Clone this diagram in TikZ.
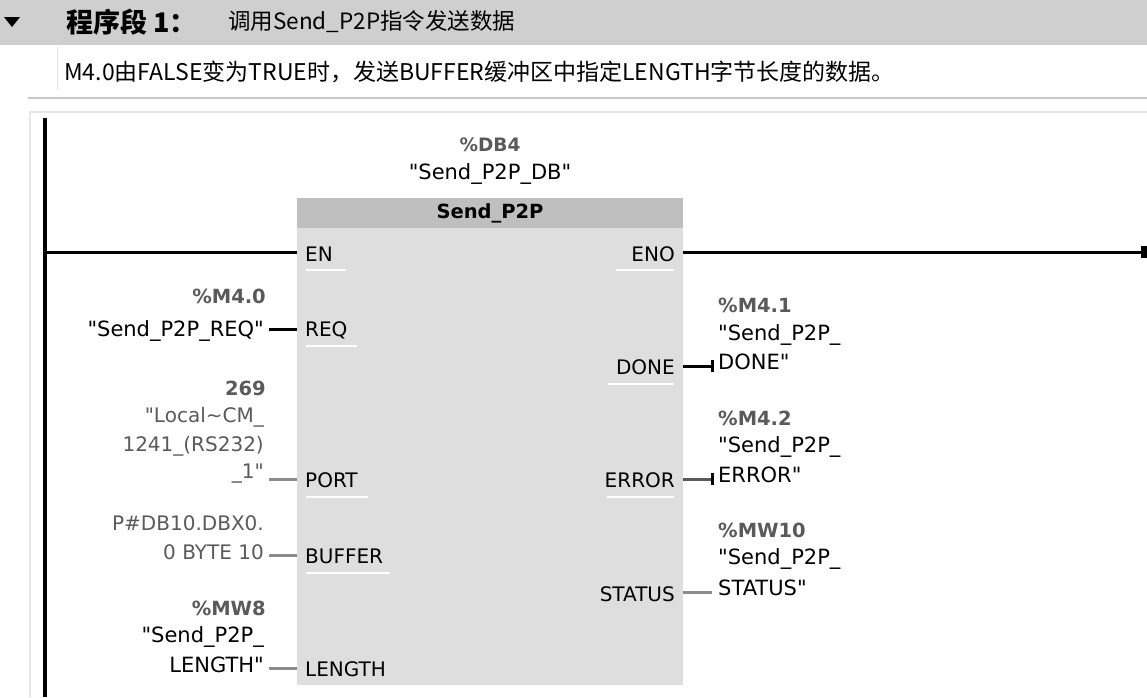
\documentclass[tikz,border=0pt]{standalone}
\usepackage{fontspec}
\setmainfont{DejaVu Sans}[Ligatures=TeXOff]
\newfontfamily\cjk{Noto Sans CJK SC}[Ligatures=TeXOff]
\definecolor{band}{HTML}{CFCFCF}
\definecolor{body}{HTML}{DEDEDE}
\definecolor{tband}{HTML}{BFBFBF}
\definecolor{valgrey}{HTML}{5A5A5A}
\definecolor{wiregrey}{HTML}{8C8C8C}
\definecolor{faint}{HTML}{E6E6E6}
\tikzset{
  pinl/.style={anchor=west,inner sep=0pt,font=\fontsize{20}{24}\selectfont},
  pinr/.style={anchor=east,inner sep=0pt,font=\fontsize{20}{24}\selectfont},
  addr/.style={inner sep=0pt,text=valgrey,font=\bfseries\fontsize{19.5}{24}\selectfont},
  sym/.style={inner sep=0pt,font=\fontsize{21}{24}\selectfont},
  gval/.style={inner sep=0pt,text=valgrey,font=\fontsize{20}{24}\selectfont},
  blackwire/.style={line width=3pt,black},
  greywire/.style={line width=3pt,wiregrey},
  darkwire/.style={line width=3pt,valgrey},
  rail/.style={line width=3.5pt,black},
  uline/.style={white,line width=1.5pt},
}
\begin{document}
\begin{tikzpicture}[x=1pt,y=-1pt]
\useasboundingbox (0,0) rectangle (1147,697);
\fill[white] (0,0) rectangle (1147,697);
% header band
\fill[band] (0,0) rectangle (1147,45);
\fill[black] (4,17) -- (20,17) -- (12,27) -- cycle;
\node[anchor=west,inner sep=0pt,font=\cjk\bfseries\fontsize{27}{30}\selectfont] (sec) at (66,22) {程序段 1：};
\node[anchor=west,inner sep=0pt,font=\cjk\fontsize{22.5}{26}\selectfont] (sectitle) at (228,22) {调用Send\_P2P指令发送数据};
% description box
\draw[faint,line width=1pt] (57,47) -- (57,90);
\node[anchor=west,inner sep=0pt,font=\cjk\fontsize{23}{26}\selectfont] (desc) at (64,72) {M4.0由FALSE变为TRUE时，发送BUFFER缓冲区中指定LENGTH字节长度的数据。};
\draw[black!22,line width=2pt] (28,98) -- (1147,98);
\draw[faint,line width=1.2pt] (30,697) -- (30,112) -- (1147,112);
% instance DB
\node[addr,font=\bfseries\fontsize{18.5}{22}\selectfont] (db) at (490,145) {\%DB4};
\node[sym] (dbname) at (490,174) {"Send\_P2P\_DB"};
% block
\node[fill=body,minimum width=386pt,minimum height=487pt,inner sep=0pt] (blk) at (490,441.5) {};
\node[fill=tband,minimum width=386pt,minimum height=30pt,inner sep=0pt,font=\bfseries\fontsize{19.5}{22}\selectfont] (title) at (490,213) {Send\_P2P};
% rail
\coordinate (railtop) at (45,118);
\coordinate (railbot) at (45,697);
\draw[rail] (railtop) -- (railbot);
% pins left
\node[pinl] (en) at (305,254) {EN};
\node[pinl] (req) at (305,330) {REQ};
\node[pinl] (port) at (305,480) {PORT};
\node[pinl] (buffer) at (305,556) {BUFFER};
\node[pinl] (length) at (305,669) {LENGTH};
% pins right
\node[pinr] (eno) at (675,254) {ENO};
\node[pinr] (done) at (675,367) {DONE};
\node[pinr] (error) at (675,480) {ERROR};
\node[pinr] (status) at (675,594) {STATUS};
% underlines
\draw[uline] (306,270) -- (346,270);
\draw[uline] (306,346) -- (357,346);
\draw[uline] (306,497) -- (368,497);
\draw[uline] (306,573) -- (390,573);
\draw[uline] (616,270) -- (674,270);
\draw[uline] (608,384) -- (674,384);
\draw[uline] (607,497) -- (674,497);
% EN / ENO wires
\coordinate (enrail) at (45,252);
\coordinate (enin) at (297,252);
\coordinate (enoout) at (683,252);
\coordinate (railend) at (1144,252);
\draw[rail,line width=3pt] (enrail) -- (enin);
\draw[rail,line width=3pt] (enoout) -- (railend);
\fill[black] (1141,246) rectangle (1147,258);
% left operands
\node[addr,anchor=east] (m40) at (266,296) {\%M4.0};
\node[sym,anchor=east] (reqsym) at (264,331) {"Send\_P2P\_REQ"};
\coordinate (reqa) at (269,329); \coordinate (reqb) at (297,329);
\draw[blackwire] (reqa) -- (reqb);

\node[addr,anchor=east] (c269) at (266,388) {269};
\node[gval,anchor=east] (p1) at (264,417) {"Local\textasciitilde CM\_};
\node[gval,anchor=east] (p2) at (264,446) {1241\_(RS232)};
\node[gval,anchor=east] (p3) at (264,474) {\_1"};
\coordinate (porta) at (269,479); \coordinate (portb) at (297,479);
\draw[greywire] (porta) -- (portb);

\node[gval,anchor=east] (b1) at (264,523) {P\#DB10.DBX0.};
\node[gval,anchor=east] (b2) at (264,552) {0 BYTE 10};
\coordinate (bufa) at (269,555); \coordinate (bufb) at (297,555);
\draw[greywire] (bufa) -- (bufb);

\node[addr,anchor=east] (mw8) at (266,608) {\%MW8};
\node[sym,anchor=east] (l1) at (264,637) {"Send\_P2P\_};
\node[sym,anchor=east] (l2) at (264,665) {LENGTH"};
\coordinate (lena) at (269,668); \coordinate (lenb) at (297,668);
\draw[greywire] (lena) -- (lenb);

% right operands
\node[addr,anchor=west] (m41) at (718,305) {\%M4.1};
\node[sym,anchor=west] (d1) at (718,335) {"Send\_P2P\_};
\node[sym,anchor=west] (d2) at (718,362) {DONE"};
\coordinate (donea) at (683,366); \coordinate (doneb) at (712,366);
\draw[blackwire] (donea) -- (doneb);
\draw[black,line width=3pt] (712,360) -- (712,372);

\node[addr,anchor=west] (m42) at (718,418) {\%M4.2};
\node[sym,anchor=west] (e1) at (718,447) {"Send\_P2P\_};
\node[sym,anchor=west] (e2) at (718,475) {ERROR"};
\coordinate (erra) at (683,479); \coordinate (errb) at (712,479);
\draw[darkwire] (erra) -- (errb);
\draw[black,line width=3pt] (712,473) -- (712,485);

\node[addr,anchor=west] (mw10) at (718,530) {\%MW10};
\node[sym,anchor=west] (s1) at (718,559) {"Send\_P2P\_};
\node[sym,anchor=west] (s2) at (718,588) {STATUS"};
\coordinate (stata) at (683,592); \coordinate (statb) at (712,592);
\draw[greywire] (stata) -- (statb);
\end{tikzpicture}
\end{document}
